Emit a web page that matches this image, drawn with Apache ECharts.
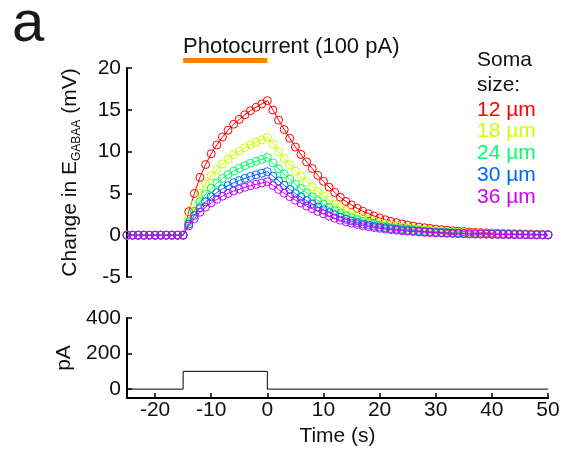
<!DOCTYPE html>
<html><head><meta charset="utf-8">
<script src="https://cdn.jsdelivr.net/npm/echarts@6/dist/echarts.min.js"></script>
<style>html,body{margin:0;padding:0;background:#fff}#c{width:566px;height:458px}</style>
</head><body><div id="c"></div>
<script>
// Time (s), one sample per second
const times = [-25,-24,-23,-22,-21,-20,-19,-18,-17,-16,-15,-14,-13,-12,-11,-10,-9,-8,-7,-6,-5,-4,-3,-2,-1,0,1,2,3,4,5,6,7,8,9,10,11,12,13,14,15,16,17,18,19,20,21,22,23,24,25,26,27,28,29,30,31,32,33,34,35,36,37,38,39,40,41,42,43,44,45,46,47,48,49,50];
const sizes = ['12 µm','18 µm','24 µm','30 µm','36 µm'];
// Change in E_GABAA (mV) per soma size
const soma12 = [0,0,0,0,0,0,0,0,0,0,0, 2.82,4.99,6.92,8.45,9.74,10.79,11.75,12.56,13.28,13.85,14.41,14.89,15.30,15.70,16.10, 14.97,13.77,12.64,11.59,10.55,9.66,8.77,7.97,7.16,6.44,5.75,5.12,4.54,4.03,3.62,3.22,2.87,2.58,2.30,2.06,1.85,1.66,1.50,1.35,1.21,1.09,0.98,0.89,0.81,0.72,0.66,0.60,0.53,0.48,0.43,0.39,0.35,0.32,0.29,0.26,0.23,0.21,0.19,0.18,0.16,0.14,0.13,0.11,0.10,0.08];
const soma18 = [0,0,0,0,0,0,0,0,0,0,0, 2.05,3.63,5.03,6.14,7.08,7.84,8.54,9.13,9.65,10.06,10.47,10.82,11.12,11.41,11.70, 10.88,10.00,9.18,8.42,7.66,7.02,6.38,5.79,5.21,4.68,4.18,3.72,3.30,2.93,2.63,2.34,2.08,1.87,1.67,1.50,1.35,1.21,1.09,0.98,0.88,0.80,0.71,0.64,0.59,0.53,0.48,0.43,0.39,0.35,0.32,0.28,0.26,0.23,0.21,0.19,0.16,0.15,0.14,0.13,0.12,0.11,0.09,0.08,0.07,0.06];
const soma24 = [0,0,0,0,0,0,0,0,0,0,0, 1.63,2.88,4.00,4.88,5.63,6.23,6.79,7.25,7.67,8.00,8.32,8.60,8.84,9.07,9.30, 8.65,7.95,7.30,6.70,6.09,5.58,5.07,4.60,4.14,3.72,3.32,2.96,2.62,2.33,2.09,1.86,1.66,1.49,1.33,1.19,1.07,0.96,0.86,0.78,0.70,0.63,0.57,0.51,0.47,0.42,0.38,0.34,0.31,0.28,0.25,0.22,0.20,0.19,0.17,0.15,0.13,0.12,0.11,0.10,0.09,0.08,0.07,0.07,0.06,0.05];
const soma30 = [0,0,0,0,0,0,0,0,0,0,0, 1.33,2.36,3.27,3.99,4.60,5.09,5.55,5.93,6.27,6.54,6.80,7.03,7.22,7.41,7.60, 7.07,6.50,5.97,5.47,4.98,4.56,4.14,3.76,3.38,3.04,2.71,2.42,2.14,1.90,1.71,1.52,1.35,1.22,1.09,0.97,0.87,0.78,0.71,0.64,0.57,0.52,0.46,0.42,0.38,0.34,0.31,0.28,0.25,0.23,0.21,0.18,0.17,0.15,0.14,0.12,0.11,0.10,0.09,0.08,0.08,0.07,0.06,0.05,0.05,0.04];
const soma36 = [0,0,0,0,0,0,0,0,0,0,0, 1.12,1.98,2.75,3.36,3.87,4.29,4.67,4.99,5.28,5.50,5.73,5.92,6.08,6.24,6.40, 5.95,5.47,5.02,4.61,4.19,3.84,3.49,3.17,2.85,2.56,2.28,2.04,1.80,1.60,1.44,1.28,1.14,1.02,0.92,0.82,0.74,0.66,0.60,0.54,0.48,0.44,0.39,0.35,0.32,0.29,0.26,0.24,0.21,0.19,0.17,0.15,0.14,0.13,0.12,0.10,0.09,0.08,0.08,0.07,0.06,0.06,0.05,0.04,0.04,0.03];
// Photocurrent step (pA)
const stimTimes = [-25,-15,-15,0,0,50];
const stimCurrent = [0,0,100,100,0,0];
// Photocurrent period bar
const barTimes = [-15,0];
const barLevel = [20.9,20.9];
// Tick labels
const xTicks = [-20,-10,0,10,20,30,40,50];
const yBotTicks = [0,200,400];

const colors = ['#ff0000','#ccff00','#00ff66','#0066ff','#cc00ff'];
const allSeries = [soma12,soma18,soma24,soma30,soma36];
const FONT = 'Liberation Sans, Arial, sans-serif';
const TXT = '#111';

const chart = echarts.init(document.getElementById('c'));
const series = allSeries.map((arr,k)=>({
  name: sizes[k], type:'line', xAxisIndex:0, yAxisIndex:0,
  data: times.map((t,i)=>[t,arr[i]]),
  symbol:'circle', symbolSize:8, showAllSymbol:true,
  lineStyle:{color:colors[k], width:1},
  itemStyle:{color:'rgba(0,0,0,0)', borderColor:colors[k], borderWidth:1},
  z: 2+k, animation:false
}));
series.push({
  type:'line', xAxisIndex:0, yAxisIndex:0, clip:false,
  data: barTimes.map((t,i)=>[t,barLevel[i]]),
  symbol:'none', lineStyle:{color:'#ff8000', width:5, cap:'butt'}, animation:false
});
series.push({
  type:'line', xAxisIndex:1, yAxisIndex:1,
  data: stimTimes.map((t,i)=>[t,stimCurrent[i]]),
  symbol:'none', lineStyle:{color:'#000', width:1}, animation:false
});

const axisBase = {
  axisLine:{onZero:false, lineStyle:{color:'#000', width:2}},
  axisTick:{inside:true, length:5, lineStyle:{color:'#000', width:1.5}},
  splitLine:{show:false},
  axisLabel:{fontSize:21, color:TXT, fontFamily:FONT}
};

chart.setOption({
  animation:false,
  backgroundColor:'#fff',
  title:[
    {text:'a', left:12, top:-4, padding:0, textStyle:{fontSize:58, fontWeight:'normal', color:'#1a1a1a', fontFamily:FONT}},
    {text:'Photocurrent (100 pA)', left:183, top:36, padding:0, textStyle:{fontSize:22, fontWeight:'normal', color:TXT, fontFamily:FONT}},
    {text:'Soma\nsize:', left:477, top:48, padding:0, textStyle:{fontSize:21, lineHeight:24.5, fontWeight:'normal', color:TXT, fontFamily:FONT}}
  ],
  legend:{
    orient:'vertical', left:472, top:99, padding:0, itemGap:0, itemWidth:0, itemHeight:14,
    selectedMode:false,
    textStyle:{fontSize:21, lineHeight:21.75, fontFamily:FONT},
    data: sizes.map((s,k)=>({name:s, icon:'none', textStyle:{color:colors[k]}}))
  },
  grid:[
    {left:127, right:18, top:68, height:209},
    {left:127, right:18, top:318, height:80}
  ],
  xAxis:[
    {type:'value', gridIndex:0, min:-25, max:50, show:false},
    Object.assign({}, axisBase, {
      type:'value', gridIndex:1, min:-25, max:50,
      axisTick:Object.assign({}, axisBase.axisTick, {customValues:xTicks}),
      axisLabel:Object.assign({}, axisBase.axisLabel, {customValues:xTicks, margin:2}),
      name:'Time (s)', nameLocation:'middle', nameGap:28,
      nameTextStyle:{fontSize:21, color:TXT, fontFamily:FONT}
    })
  ],
  yAxis:[
    Object.assign({}, axisBase, {
      type:'value', gridIndex:0, min:-5, max:20, interval:5,
      axisLabel:Object.assign({}, axisBase.axisLabel, {margin:6}),
      name:'{n|Change in E}{s|GABAA}{n| (mV)}', nameLocation:'middle', nameGap:44,
      nameTextStyle:{rich:{
        n:{fontSize:21, color:TXT, fontFamily:FONT, lineHeight:26},
        s:{fontSize:12, color:TXT, fontFamily:FONT, verticalAlign:'bottom', lineHeight:14}
      }}
    }),
    Object.assign({}, axisBase, {
      type:'value', gridIndex:1, min:-50, max:400,
      axisTick:Object.assign({}, axisBase.axisTick, {customValues:yBotTicks}),
      axisLabel:Object.assign({}, axisBase.axisLabel, {customValues:yBotTicks, margin:6}),
      name:'pA', nameLocation:'middle', nameGap:52,
      nameTextStyle:{fontSize:21, color:TXT, fontFamily:FONT}
    })
  ],
  series: series
});
</script></body></html>
